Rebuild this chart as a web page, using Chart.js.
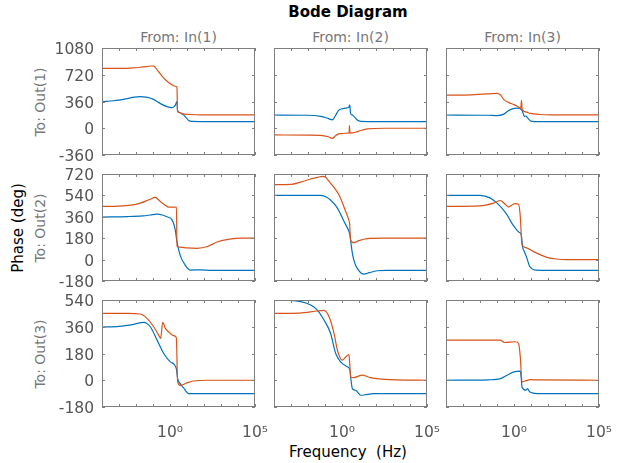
<!DOCTYPE html>
<html>
<head>
<meta charset="utf-8">
<title>Bode Diagram</title>
<script src="https://cdn.jsdelivr.net/npm/chart.js@4.4.1/dist/chart.umd.min.js"></script>
<style>
  body { margin: 0; background: #fff; }
  #fig { position: relative; width: 629px; height: 463px; overflow: hidden; font-family: 'DejaVu Sans', sans-serif; }
  #fig canvas { position: absolute; }
  .lbl { position: absolute; white-space: pre; }
  #title { left: 348px; top: 5px; font-weight: bold; font-size: 15px; line-height: 15px; transform: translateX(-50%); color: #000; }
  .from { top: 30px; font-size: 14px; line-height: 14px; color: #777; transform: translateX(-50%); }
  .to { left: 40px; font-size: 14px; line-height: 14px; color: #777; transform: translate(-50%, -50%) rotate(-90deg); }
  #ylab { left: 18px; top: 227.5px; font-size: 15px; line-height: 15px; color: #000; transform: translate(-50%, -50%) rotate(-90deg); }
  #xlab { left: 348px; top: 445px; font-size: 15px; line-height: 15px; color: #000; transform: translateX(-50%); }
</style>
</head>
<body>
<div id="fig">
  <div class="lbl" id="title">Bode Diagram</div>
  <div class="lbl from" style="left:178.5px">From: In(1)</div>
  <div class="lbl from" style="left:350.5px">From: In(2)</div>
  <div class="lbl from" style="left:522.5px">From: In(3)</div>
  <div class="lbl to" style="top:101.5px">To: Out(1)</div>
  <div class="lbl to" style="top:227.5px">To: Out(2)</div>
  <div class="lbl to" style="top:353.5px">To: Out(3)</div>
  <div class="lbl" id="ylab">Phase (deg)</div>
  <div class="lbl" id="xlab">Frequency  (Hz)</div>
</div>
<script>
// phase data: [log10(frequency in Hz), phase in deg]
const out1in1Blue = [[-4,358],[-3.3,370],[-2.6,395],[-2.1,418],[-1.75,425],[-1.4,418],[-1.0,392],[-0.76,360],[-0.45,318],[-0.18,292],[0.12,278],[0.25,290],[0.33,320],[0.41,360],[0.45,235],[0.55,212],[0.7,197],[0.8,180],[0.9,157],[1.1,103],[1.3,92],[2,90],[5,90]];
const out1in1Orange = [[-4,805],[-3,805],[-2.15,812],[-1.6,825],[-1.1,838],[-0.95,835],[-0.76,787],[-0.37,675],[-0.1,620],[0.12,585],[0.3,565],[0.41,553],[0.44,230],[0.55,212],[0.7,197],[1.2,185],[1.8,180],[5,180]];
const out1in2Blue = [[-4,178],[-2,175],[-1.25,160],[-0.8,130],[-0.57,112],[-0.4,165],[-0.2,240],[0,262],[0.22,270],[0.4,285],[0.46,315],[0.5,200],[0.6,180],[0.7,160],[0.9,110],[1.1,92],[1.5,90],[5,90]];
const out1in2Orange = [[-4,-90],[-2,-92],[-1.25,-95],[-0.8,-115],[-0.57,-135],[-0.4,-105],[-0.27,-82],[0,-72],[0.22,-67],[0.42,-62],[0.44,35],[0.47,-65],[0.6,-62],[0.8,-54],[1.1,-30],[1.5,-8],[2.5,0],[5,0]];
const out1in3Blue = [[-4,178],[-1.5,175],[-1,170],[-0.6,190],[-0.4,225],[-0.1,260],[0.18,272],[0.35,265],[0.5,230],[0.6,160],[0.7,165],[0.8,140],[1.0,95],[1.2,90],[5,90]];
const out1in3Orange = [[-4,445],[-2.5,450],[-1.5,462],[-1,470],[-0.8,450],[-0.6,385],[-0.3,345],[0,318],[0.2,295],[0.4,268],[0.44,375],[0.48,255],[0.7,220],[0.96,200],[1.5,185],[2.2,180],[5,180]];
const out2in1Blue = [[-4,358],[-2.5,362],[-1.6,368],[-1.16,375],[-0.77,382],[-0.45,375],[-0.18,360],[0.12,334],[0.31,249],[0.41,150],[0.6,36],[0.9,-48],[1.2,-88],[1.8,-86],[2.5,-90],[5,-90]];
const out2in1Orange = [[-4,448],[-3,450],[-2.3,458],[-1.75,475],[-1.2,505],[-0.86,523],[-0.7,505],[-0.57,489],[-0.3,460],[-0.08,442],[0.2,442],[0.38,440],[0.41,110],[0.6,105],[1.0,98],[1.6,95],[2.2,110],[2.8,150],[3.5,172],[4.2,180],[5,180]];
const out2in2Blue = [[-4,540],[-2,540],[-1.25,540],[-0.9,525],[-0.69,503],[-0.27,433],[0.12,320],[0.41,236],[0.48,200],[0.51,160],[0.61,53],[0.75,-30],[0.9,-74],[1.1,-110],[1.3,-122],[1.6,-110],[2.08,-94],[2.6,-90],[5,-90]];
const out2in2Orange = [[-4,630],[-3,632],[-2.43,652],[-1.8,680],[-1.45,691],[-1.16,700],[-0.95,690],[-0.76,658],[-0.6,630],[-0.47,607],[-0.18,545],[0.22,404],[0.41,328],[0.45,300],[0.5,165],[0.7,142],[1.0,160],[1.5,176],[2.5,180],[5,180]];
const out2in3Blue = [[-4,540],[-2,540],[-1.39,517],[-1,475],[-0.7,430],[-0.41,376],[-0.1,300],[0.08,264],[0.3,230],[0.43,208],[0.5,110],[0.6,70],[0.76,12],[0.9,-50],[1.06,-78],[1.3,-88],[2,-90],[5,-90]];
const out2in3Orange = [[-4,448],[-2,452],[-1.2,475],[-0.8,497],[-0.55,470],[-0.31,442],[-0.1,462],[0.08,470],[0.27,465],[0.37,363],[0.47,124],[0.7,100],[1.15,67],[1.6,38],[1.94,19],[2.5,5],[3.1,0],[5,0]];
const out3in1Blue = [[-4,358],[-3,362],[-2.14,376],[-1.55,390],[-1.16,360],[-0.76,270],[-0.37,180],[0.02,124],[0.37,79],[0.45,11],[0.6,-23],[0.8,-52],[1.1,-90],[5,-90]];
const out3in1Orange = [[-4,450],[-2.5,450],[-1.75,446],[-1.35,416],[-0.96,360],[-0.61,292],[-0.55,281],[-0.43,390],[-0.27,349],[0.02,315],[0.2,300],[0.37,288],[0.45,-11],[0.6,-34],[1.0,-18],[1.39,-5],[2.2,0],[5,0]];
const out3in2Blue = [[-4,540],[-3,538],[-2.43,529],[-1.84,506],[-1.45,472],[-1.06,405],[-0.67,315],[-0.37,180],[-0.08,124],[0.32,90],[0.47,68],[0.51,22],[0.61,-56],[0.8,-67],[1.1,-101],[1.5,-95],[1.88,-90],[5,-90]];
const out3in2Orange = [[-4,450],[-2.5,452],[-1.45,466],[-1.06,470],[-0.76,427],[-0.47,315],[-0.27,202],[0.02,135],[0.22,157],[0.41,173],[0.46,100],[0.51,22],[0.7,18],[1.18,34],[1.67,18],[2.84,4],[5,0]];
const out3in3Blue = [[-4,0],[-1.5,3],[-0.8,11],[-0.41,34],[0,56],[0.37,61],[0.42,20],[0.47,-45],[0.7,-67],[0.8,-56],[0.9,-75],[1.06,-85],[1.4,-90],[5,-90]];
const out3in3Orange = [[-4,270],[-0.8,270],[-0.57,254],[0.08,259],[0.27,247],[0.37,157],[0.47,-11],[0.7,-3],[0.96,4],[1.5,2],[5,0]];

// axis ranges and ticks per output row
const phaseMin = [-360, -180, -180];
const phaseMax = [1080, 720, 540];
const phaseStep = [360, 180, 180];
const decades = [-4, -3, -2, -1, 0, 1, 2, 3, 4, 5];
const freqLabels = { 0: '10\u2070', 5: '10\u2075' };

const curves = [
    [[out1in1Blue, out1in1Orange], [out1in2Blue, out1in2Orange], [out1in3Blue, out1in3Orange]],
    [[out2in1Blue, out2in1Orange], [out2in2Blue, out2in2Orange], [out2in3Blue, out2in3Orange]],
    [[out3in1Blue, out3in1Orange], [out3in2Blue, out3in2Orange], [out3in3Blue, out3in3Orange]],
];

const BLUE = '#0072BD';
const ORANGE = '#D95319';
const COL_LEFT = [102, 274, 446];
const ROW_TOP = [48, 174, 300];
const PLOT_W = 153;
const PLOT_H = 107;

Chart.defaults.font.family = "'DejaVu Sans', sans-serif";

// matlab-like axes box with inward ticks on all four sides
const boxPlugin = {
    id: 'matlabBox',
    afterDatasetsDraw(chart) {
        const { ctx, chartArea: a, scales: { x, y } } = chart;
        ctx.save();
        ctx.strokeStyle = '#7f7f7f';
        ctx.lineWidth = 1;
        ctx.strokeRect(a.left + 0.5, a.top + 0.5, a.width - 1, a.height - 1);
        ctx.beginPath();
        x.ticks.forEach(t => {
            const px = Math.round(x.getPixelForValue(t.value)) + 0.5;
            ctx.moveTo(px, a.bottom); ctx.lineTo(px, a.bottom - 3);
            ctx.moveTo(px, a.top); ctx.lineTo(px, a.top + 3);
        });
        y.ticks.forEach(t => {
            const py = Math.round(y.getPixelForValue(t.value)) + 0.5;
            ctx.moveTo(a.left, py); ctx.lineTo(a.left + 3, py);
            ctx.moveTo(a.right, py); ctx.lineTo(a.right - 3, py);
        });
        ctx.stroke();
        ctx.restore();
    },
};

const toPoints = pts => pts.map(([e, p]) => ({ x: Math.pow(10, e), y: p }));

function makePanel(r, c) {
    const yw = c === 0 ? 60 : 4;
    const xh = r === 2 ? 40 : 12;
    const padTop = 12, padRight = 22;
    const canvas = document.createElement('canvas');
    canvas.width = yw + PLOT_W + padRight;
    canvas.height = padTop + PLOT_H + xh;
    canvas.style.left = (COL_LEFT[c] - yw) + 'px';
    canvas.style.top = (ROW_TOP[r] - padTop) + 'px';
    document.getElementById('fig').appendChild(canvas);

    const [blue, orange] = curves[r][c];
    const line = (pts, color, order) => ({
        data: toPoints(pts),
        borderColor: color,
        borderWidth: 1.2,
        pointRadius: 0,
        cubicInterpolationMode: 'monotone',
        order,
    });

    new Chart(canvas, {
        type: 'line',
        data: { datasets: [line(blue, BLUE, 1), line(orange, ORANGE, 0)] },
        plugins: [boxPlugin],
        options: {
            responsive: false,
            devicePixelRatio: 1,
            animation: false,
            events: [],
            layout: { autoPadding: false, padding: { left: 0, right: padRight, top: padTop, bottom: 0 } },
            plugins: { legend: { display: false }, tooltip: { enabled: false } },
            scales: {
                x: {
                    type: 'logarithmic',
                    min: 1e-4,
                    max: 1e5,
                    // the (hidden) tick length sets the label gap without adding side padding
                    grid: { display: false, drawTicks: true, tickLength: 17 },
                    border: { display: false },
                    afterBuildTicks: s => { s.ticks = decades.map(e => ({ value: Math.pow(10, e) })); },
                    afterFit: s => { s.height = xh; },
                    ticks: {
                        display: r === 2,
                        autoSkip: false,
                        maxRotation: 0,
                        padding: 0,
                        color: '#555',
                        font: { size: 15.5 },
                        callback: (v, i) => freqLabels[decades[i]] || '',
                    },
                },
                y: {
                    min: phaseMin[r],
                    max: phaseMax[r],
                    grid: { display: false, drawTicks: true, tickLength: 8 },
                    border: { display: false },
                    afterFit: s => { s.width = yw; },
                    ticks: {
                        display: c === 0,
                        autoSkip: false,
                        stepSize: phaseStep[r],
                        padding: 0,
                        labelOffset: 2,
                        color: '#555',
                        font: { size: 15.5 },
                        callback: v => String(v),
                    },
                },
            },
        },
    });
}

for (let r = 0; r < 3; r++) {
    for (let c = 0; c < 3; c++) makePanel(r, c);
}
</script>
</body>
</html>
